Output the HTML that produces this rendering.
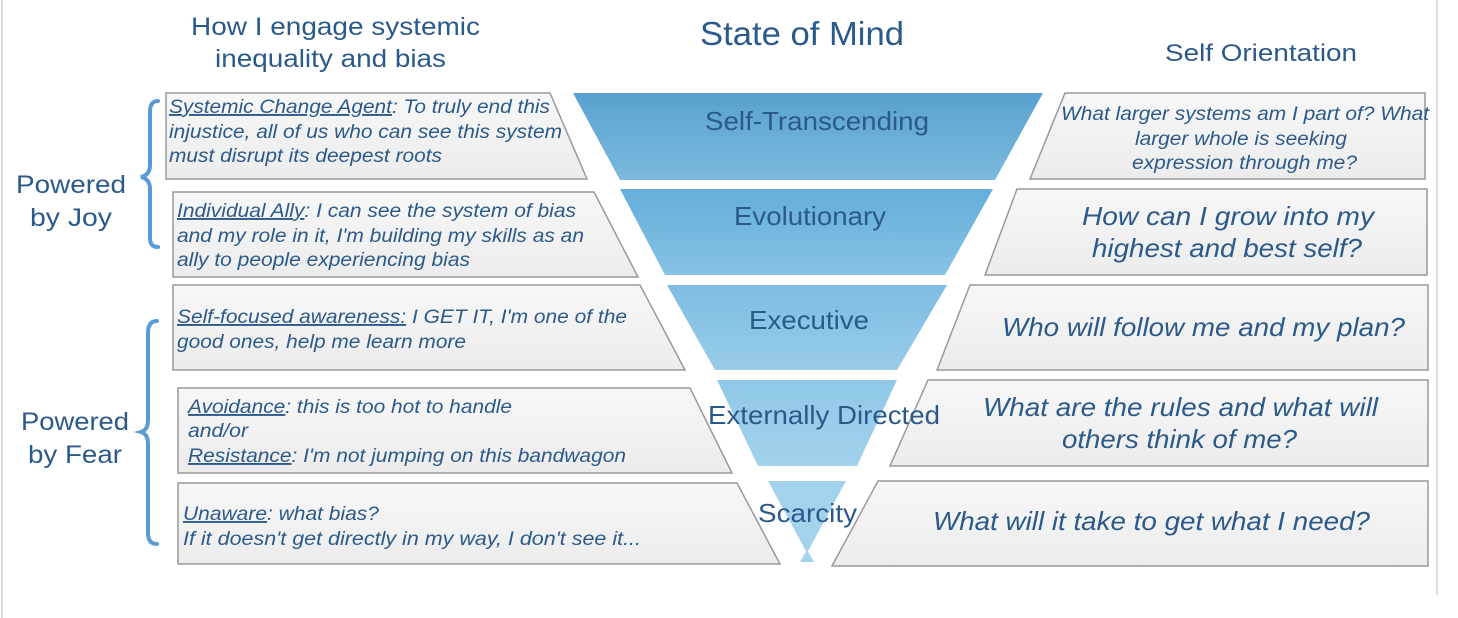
<!DOCTYPE html>
<html><head><meta charset="utf-8"><style>
html,body{margin:0;padding:0;background:#fff;}
svg{display:block;}
text{font-family:"Liberation Sans",Arial,sans-serif;fill:#2b5a8a;}
.it{font-style:italic;}
.u{text-decoration:underline;}
</style></head><body>
<svg width="1458" height="618" viewBox="0 0 1458 618" xmlns="http://www.w3.org/2000/svg">
<defs>
<linearGradient id="g" x1="0" y1="0" x2="0" y2="1"><stop offset="0" stop-color="#f7f7f7"/><stop offset="1" stop-color="#ececec"/></linearGradient>
<linearGradient id="f1" x1="0" y1="0" x2="0" y2="1"><stop offset="0" stop-color="#58a2cf"/><stop offset="1" stop-color="#7cb9dd"/></linearGradient>
<linearGradient id="f2" x1="0" y1="0" x2="0" y2="1"><stop offset="0" stop-color="#64aed9"/><stop offset="1" stop-color="#86c2e4"/></linearGradient>
<linearGradient id="f3" x1="0" y1="0" x2="0" y2="1"><stop offset="0" stop-color="#7dbce2"/><stop offset="1" stop-color="#98cce9"/></linearGradient>
<linearGradient id="f4" x1="0" y1="0" x2="0" y2="1"><stop offset="0" stop-color="#90c8e8"/><stop offset="1" stop-color="#a2d2ec"/></linearGradient>
</defs>
<line x1="2" y1="0" x2="2" y2="618" stroke="#ddd" stroke-width="2"/>
<line x1="1437" y1="0" x2="1437" y2="595" stroke="#ddd" stroke-width="2"/>

<g lengthAdjust="spacingAndGlyphs">
<text x="191" y="35" font-size="25" textLength="289" lengthAdjust="spacingAndGlyphs">How I engage systemic</text>
<text x="215" y="67" font-size="25" textLength="231" lengthAdjust="spacingAndGlyphs">inequality and bias</text>
<text x="700" y="45" font-size="33" textLength="204" lengthAdjust="spacingAndGlyphs">State of Mind</text>
<text x="1165" y="61" font-size="24" textLength="192" lengthAdjust="spacingAndGlyphs">Self Orientation</text>
</g>

<g fill="url(#g)" stroke="#999" stroke-width="1.5">
<polygon points="166,93 550,93 587,179 166,179"/>
<polygon points="173,192 594,192 638,277 173,277"/>
<polygon points="173,285 640,285 685,370 173,370"/>
<polygon points="178,388 690,388 732,473 178,473"/>
<polygon points="178,483 737,483 780,564 178,564"/>
<polygon points="1065,93 1425,93 1425,179 1030,179"/>
<polygon points="1017,189 1427,189 1427,275 985,275"/>
<polygon points="970,285 1428,285 1428,370 937,370"/>
<polygon points="928,380 1428,380 1428,466 890,466"/>
<polygon points="878,481 1428,481 1428,566 832,566"/>
</g>
<polygon points="573,93 1043,93 995,180 620,180" fill="url(#f1)"/>
<polygon points="620,189 993,189 945,275 665,275" fill="url(#f2)"/>
<polygon points="667,285 947,285 897,370 715,370" fill="url(#f3)"/>
<polygon points="717,380 897,380 857,466 758,466" fill="url(#f4)"/>
<polygon points="768,481 846,481 807,553" fill="#a2d2ec"/>
<polygon points="807,550 800,562 814,562" fill="#a2d2ec"/>

<text x="705" y="130" font-size="26" textLength="224" lengthAdjust="spacingAndGlyphs">Self-Transcending</text>
<text x="734" y="225" font-size="26" textLength="152" lengthAdjust="spacingAndGlyphs">Evolutionary</text>
<text x="749" y="329" font-size="26" textLength="120" lengthAdjust="spacingAndGlyphs">Executive</text>
<text x="708" y="424" font-size="26" textLength="232" lengthAdjust="spacingAndGlyphs">Externally Directed</text>
<text x="758" y="522" font-size="26" textLength="99" lengthAdjust="spacingAndGlyphs">Scarcity</text>

<g font-size="19">
<text x="169" y="113" class="it" textLength="381" lengthAdjust="spacingAndGlyphs"><tspan class="u">Systemic Change Agent</tspan>: To truly end this</text>
<text x="169" y="138" class="it" textLength="393" lengthAdjust="spacingAndGlyphs">injustice, all of us who can see this system</text>
<text x="169" y="162" class="it" textLength="273" lengthAdjust="spacingAndGlyphs">must disrupt its deepest roots</text>
<text x="177" y="217" class="it" textLength="399" lengthAdjust="spacingAndGlyphs"><tspan class="u">Individual Ally</tspan>: I can see the system of bias</text>
<text x="177" y="242" class="it" textLength="407" lengthAdjust="spacingAndGlyphs">and my role in it, I'm building my skills as an</text>
<text x="177" y="266" class="it" textLength="293" lengthAdjust="spacingAndGlyphs">ally to people experiencing bias</text>
<text x="177" y="323" class="it" textLength="450" lengthAdjust="spacingAndGlyphs"><tspan class="u">Self-focused awareness:</tspan> I GET IT, I'm one of the</text>
<text x="177" y="348" class="it" textLength="289" lengthAdjust="spacingAndGlyphs">good ones, help me learn more</text>
<text x="188" y="413" class="it" textLength="324" lengthAdjust="spacingAndGlyphs"><tspan class="u">Avoidance</tspan>: this is too hot to handle</text>
<text x="188" y="437" class="it" textLength="60" lengthAdjust="spacingAndGlyphs">and/or</text>
<text x="188" y="462" class="it" textLength="438" lengthAdjust="spacingAndGlyphs"><tspan class="u">Resistance</tspan>: I'm not jumping on this bandwagon</text>
<text x="183" y="520" class="it" textLength="196" lengthAdjust="spacingAndGlyphs"><tspan class="u">Unaware</tspan>: what bias?</text>
<text x="183" y="545" class="it" textLength="458" lengthAdjust="spacingAndGlyphs">If it doesn't get directly in my way, I don't see it...</text>
</g>

<text x="1061" y="120" font-size="19" class="it" textLength="368" lengthAdjust="spacingAndGlyphs">What larger systems am I part of? What</text>
<text x="1135" y="145" font-size="19" class="it" textLength="212" lengthAdjust="spacingAndGlyphs">larger whole is seeking</text>
<text x="1132" y="169" font-size="19" class="it" textLength="225" lengthAdjust="spacingAndGlyphs">expression through me?</text>
<text x="1082" y="225" font-size="26" class="it" textLength="292" lengthAdjust="spacingAndGlyphs">How can I grow into my</text>
<text x="1092" y="257" font-size="26" class="it" textLength="270" lengthAdjust="spacingAndGlyphs">highest and best self?</text>
<text x="1002" y="336" font-size="26" class="it" textLength="403" lengthAdjust="spacingAndGlyphs">Who will follow me and my plan?</text>
<text x="983" y="416" font-size="26" class="it" textLength="395" lengthAdjust="spacingAndGlyphs">What are the rules and what will</text>
<text x="1062" y="448" font-size="26" class="it" textLength="235" lengthAdjust="spacingAndGlyphs">others think of me?</text>
<text x="933" y="530" font-size="26" class="it" textLength="437" lengthAdjust="spacingAndGlyphs">What will it take to get what I need?</text>

<text x="16" y="193" font-size="25" textLength="110" lengthAdjust="spacingAndGlyphs">Powered</text>
<text x="30" y="226" font-size="25" textLength="82" lengthAdjust="spacingAndGlyphs">by Joy</text>
<text x="21" y="430" font-size="25" textLength="108" lengthAdjust="spacingAndGlyphs">Powered</text>
<text x="28" y="463" font-size="25" textLength="94" lengthAdjust="spacingAndGlyphs">by Fear</text>

<g fill="none" stroke="#5b9bd5" stroke-width="4" stroke-linecap="round">
<path d="M158,101 Q150,101 150,112 L150,165 Q150,175 141,177 Q150,179 150,189 L150,238 Q150,247 158,247"/>
<path d="M157,321 Q148,321 148,333 L148,420 Q148,430 141,432 Q148,434 148,444 L148,533 Q148,544 157,544"/>
</g>
</svg>
</body></html>
